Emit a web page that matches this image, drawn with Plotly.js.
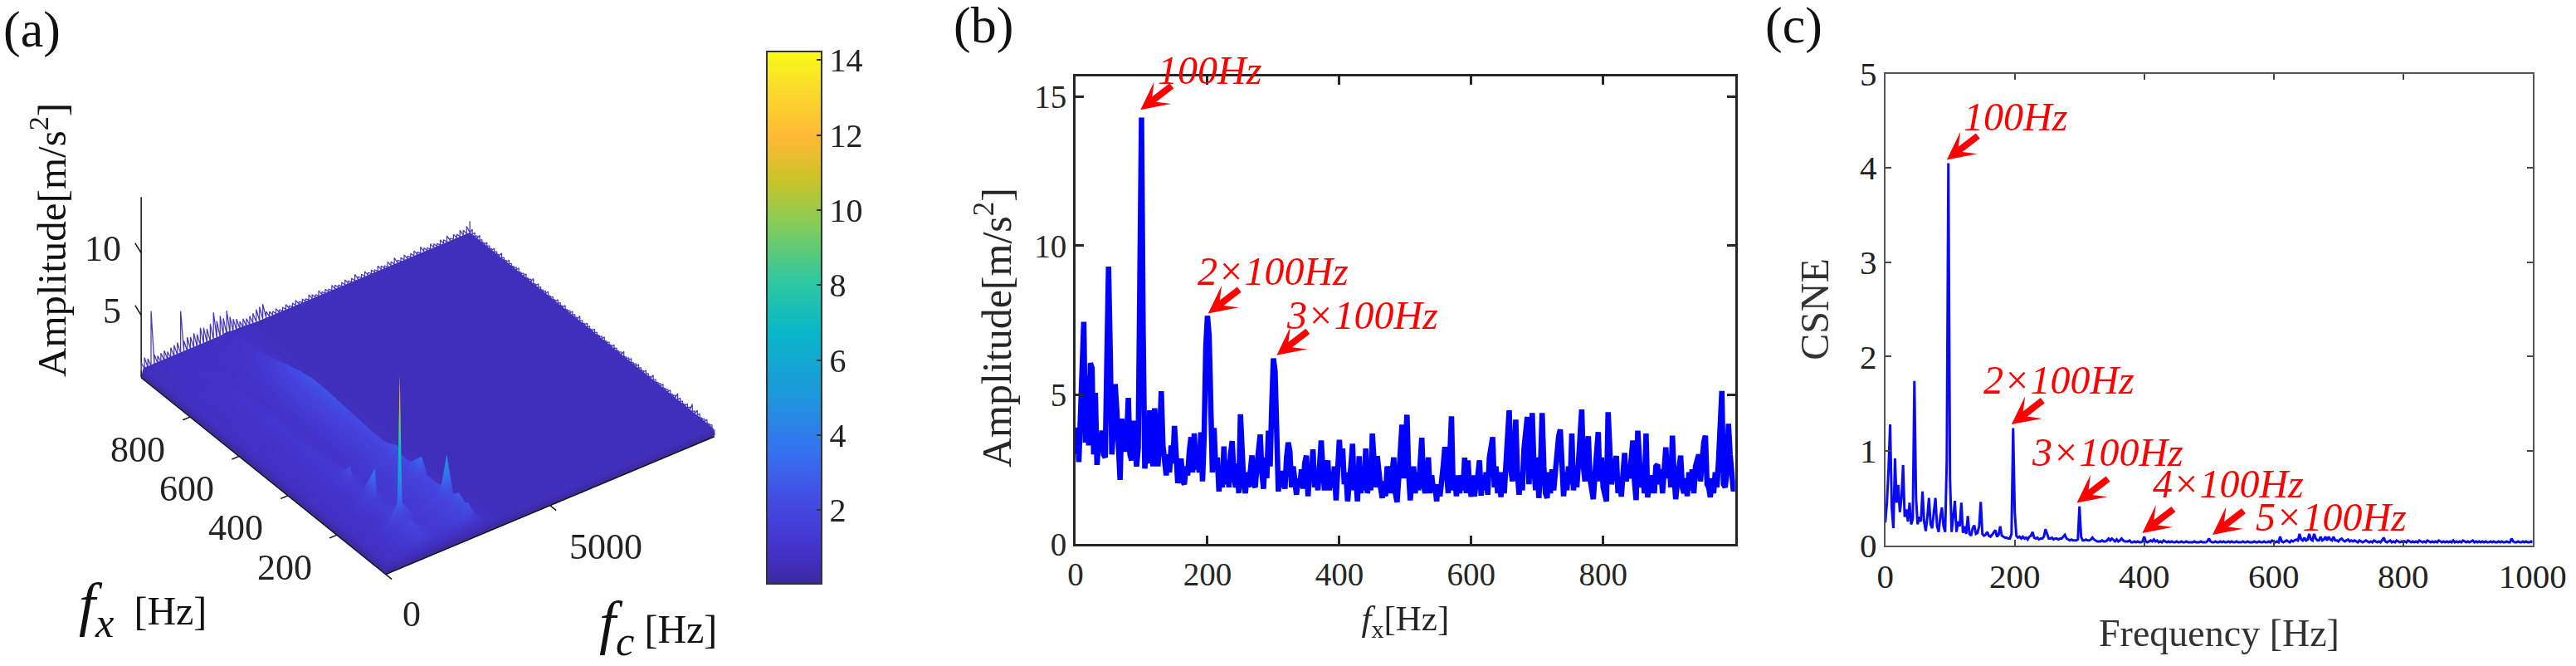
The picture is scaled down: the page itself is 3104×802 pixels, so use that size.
<!DOCTYPE html>
<html>
<head>
<meta charset="utf-8">
<script src="https://cdn.plot.ly/plotly-3.0.1.min.js"></script>
<style>html,body{margin:0;padding:0;background:#fff}</style>
</head>
<body>
<div id="plot" style="width:3104px;height:802px"></div>
<script>
// panel (a): surface over carrier frequency (columns) and cyclic frequency (rows)
const fcGrid = [0,60,400,800,1100,1170,1240,1600,2000,2400,2600,2800,3100,3500,4000,5000,6000,7000,8000,9000,10000];
const fxGrid = [0,4,12,25,50,75,96,100,104,130,150,198,202,250,298,302,350,400,450,500,550,600,650,700,750,800,850,900,1000];
const ampSurface = [
 [.05,.05,.05,.05,.05,.05,.05,.05,.05,.05,.05,.05,.05,.05,.05,.05,.05,.05,.05,.05,.05],
 [.05,.5,.7,.9,1.3,1.5,1.3,1.0,1.1,1.5,2.0,1.2,.7,.6,.6,.6,.6,.6,.6,.6,.6],
 [.05,.7,.9,1.2,1.7,2.0,1.7,1.2,1.4,1.9,2.7,1.5,.7,.6,.6,.6,.6,.6,.6,.6,.6],
 [.05,.7,1.0,1.3,1.6,1.8,1.6,1.3,1.5,1.8,2.5,1.4,.8,.6,.6,.6,.6,.6,.6,.6,.6],
 [.05,.7,1.1,1.4,1.9,2.3,1.8,1.4,1.6,2.0,2.9,1.6,.8,.6,.6,.6,.6,.6,.6,.6,.6],
 [.05,.7,1.0,1.3,1.6,1.7,1.6,1.3,1.5,1.8,2.4,1.4,.8,.6,.6,.6,.6,.6,.6,.6,.6],
 [.05,.7,1.1,1.4,1.9,2.3,1.8,1.4,1.6,2.0,2.7,1.5,.8,.6,.6,.6,.6,.6,.6,.6,.6],
 [.05,.8,1.1,1.5,3.0,13.2,2.8,1.5,1.7,2.4,5.2,1.7,.9,.6,.6,.6,.6,.6,.6,.6,.6],
 [.05,.7,1.0,1.3,1.8,2.1,1.7,1.3,1.5,1.9,2.6,1.5,.8,.6,.6,.6,.6,.6,.6,.6,.6],
 [.05,.7,.9,1.2,1.5,1.6,1.5,1.3,1.5,1.8,2.3,1.4,.7,.6,.6,.6,.6,.6,.6,.6,.6],
 [.05,.7,.9,1.1,1.5,1.6,1.5,1.2,1.5,1.8,2.2,1.3,.7,.6,.6,.6,.6,.6,.6,.6,.6],
 [.05,.7,.9,1.2,1.5,1.6,1.5,1.2,1.5,1.8,2.2,1.3,.7,.6,.6,.6,.6,.6,.6,.6,.6],
 [.05,.8,1.0,1.3,1.8,4.0,1.7,1.3,1.6,2.0,3.4,1.4,.8,.6,.6,.6,.6,.6,.6,.6,.6],
 [.05,.7,.9,1.1,1.4,1.5,1.4,1.1,1.4,1.8,2.2,1.3,.7,.6,.6,.6,.6,.6,.6,.6,.6],
 [.05,.7,.9,1.1,1.4,1.4,1.4,1.1,1.4,1.8,2.2,1.3,.7,.6,.6,.6,.6,.6,.6,.6,.6],
 [.05,.8,1.0,1.2,1.6,2.6,1.6,1.2,1.5,2.0,2.7,1.3,.8,.6,.6,.6,.6,.6,.6,.6,.6],
 [.05,.7,.9,1.1,1.3,1.3,1.3,1.1,1.4,1.8,2.2,1.3,.7,.6,.6,.6,.6,.6,.6,.6,.6],
 [.05,.7,.9,1.1,1.3,1.3,1.3,1.0,1.4,1.8,2.2,1.3,.7,.6,.6,.6,.6,.6,.6,.6,.6],
 [.05,.7,.9,1.1,1.3,1.3,1.3,1.0,1.4,1.9,2.3,1.3,.7,.6,.6,.6,.6,.6,.6,.6,.6],
 [.05,.7,.9,1.1,1.2,1.3,1.2,1.0,1.4,1.9,2.4,1.3,.7,.6,.6,.6,.6,.6,.6,.6,.6],
 [.05,.7,.9,1.0,1.2,1.2,1.2,1.0,1.4,2.0,2.5,1.4,.7,.6,.6,.6,.6,.6,.6,.6,.6],
 [.05,.7,.9,1.1,1.2,1.2,1.2,1.0,1.4,2.0,2.6,1.4,.7,.6,.6,.6,.6,.6,.6,.6,.6],
 [.05,.7,.9,1.0,1.2,1.2,1.2,1.0,1.4,2.1,2.6,1.4,.7,.6,.6,.6,.6,.6,.6,.6,.6],
 [.05,.7,.8,1.0,1.1,1.2,1.1,.9,1.3,1.9,2.4,1.3,.7,.6,.6,.6,.6,.6,.6,.6,.6],
 [.05,.7,.8,.9,1.1,1.1,1.1,.9,1.2,1.7,2.1,1.2,.7,.6,.6,.6,.6,.6,.6,.6,.6],
 [.05,.7,.8,.9,1.0,1.0,1.0,.9,1.1,1.4,1.7,1.1,.7,.6,.6,.6,.6,.6,.6,.6,.6],
 [.05,.7,.8,.8,.9,.9,.9,.8,1.0,1.2,1.4,1.0,.7,.6,.6,.6,.6,.6,.6,.6,.6],
 [.05,.7,.7,.8,.8,.8,.8,.8,.9,1.0,1.1,.9,.7,.6,.6,.6,.6,.6,.6,.6,.6],
 [.05,.7,.7,.7,.7,.7,.7,.7,.7,.7,.8,.7,.7,.6,.6,.6,.6,.6,.6,.6,.6]
];
// ragged far edges of the surface, one value every farEdgeFcStep / farEdgeFxStep Hz
const farEdgeFcStep = 100;
const farEdgeFcAmp = [
 1.2,1.5,1.3,5.0,1.4,1.2,1.3,1.4,1.2,1.4,
 1.5,1.6,4.0,1.5,1.7,1.6,1.8,1.6,2.0,1.9,
 1.7,2.0,2.8,2.0,2.3,2.0,2.5,1.9,1.6,1.5,
 1.2,1.3,1.2,1.3,1.4,1.6,1.7,1.8,1.1,1.0,
 .9,1.0,.8,.9,1.0,.8,.9,1.0,.8,.9,
 .8,1.0,.9,.8,1.0,.8,.9,.8,1.0,.9,
 .8,.9,1.0,.8,.9,1.1,.8,.9,1.0,.8,
 .9,.8,1.0,.9,.8,1.0,.9,1.1,.8,.9,
 1.0,.8,.9,1.0,.8,1.1,.9,.8,1.0,.9,
 .8,1.0,.9,1.1,.8,1.0,.9,1.1,1.0,1.2,1.5];
const farEdgeFxStep = 10;
const farEdgeFxAmp = [
 .1,.8,.7,.9,.8,.7,.9,1.0,.8,1.2,
 .8,.9,.7,.8,.9,1.1,.8,.7,.9,.8,
 .7,.9,.8,.7,.8,1.0,.7,.8,.9,.7,
 .8,.9,.8,.7,.9,.8,.7,1.0,.8,.7,
 .8,.9,.7,.8,.7,.9,.8,.7,.8,.9,
 .7,.8,.9,.7,.8,1.0,.7,.8,.9,.8,
 .7,.9,.7,.8,.9,.7,.8,.7,.9,.8,
 .7,.8,.9,.7,1.0,.8,.7,.9,.8,.7,
 .9,.8,.7,.8,.9,.7,.8,1.0,.7,.8,
 .9,.7,.8,.9,.7,.8,1.0,.8,.9,1.0,1.5];
const fxTicksA = [200,400,600,800];
const fcTicksA = [0,5000];
const ampTicksA = [5,10];

// panel (b): envelope spectrum, one value every 2.5 Hz, ten values (25 Hz) per line
const ampB = [
 3.0,3.9,2.75,4.8,6.3,7.45,3.4,5.65,3.3,6.06,
 5.9,3.0,5.07,2.65,3.4,3.1,3.8,3.0,2.9,8.0,
 9.3,6.5,3.0,3.9,5.36,4.5,2.9,2.15,4.2,3.3,
 3.1,3.5,4.9,3.0,2.8,4.13,3.3,2.6,3.2,7.5,
 14.3,7.0,2.53,3.4,2.7,4.48,3.4,2.6,4.55,3.2,
 2.6,3.6,5.12,3.3,2.5,2.3,3.0,2.4,3.3,2.7,
 3.96,3.0,2.04,2.5,2.86,2.1,2.0,2.6,2.3,3.1,
 3.58,2.4,3.71,2.5,2.9,2.4,3.74,2.1,3.6,6.6,
 7.65,7.0,3.4,2.4,3.89,2.5,2.9,1.76,2.6,1.9,
 3.27,2.0,2.8,1.9,3.0,3.45,2.3,1.9,2.7,1.7,
 4.35,2.5,2.0,1.7,2.4,1.9,2.5,2.97,2.0,1.9,
 2.6,3.1,3.67,2.4,1.85,2.9,2.2,3.8,2.6,4.6,
 6.22,5.8,2.6,1.76,2.4,1.9,2.45,1.85,2.9,3.4,
 3.1,1.9,2.6,1.8,1.65,2.2,1.9,2.5,1.85,2.7,
 2.96,1.6,2.5,2.2,3.17,1.9,2.4,1.8,2.6,3.47,
 2.5,1.8,2.4,2.8,1.8,2.4,1.9,2.6,1.46,2.6,
 3.49,2.6,3.2,2.0,2.4,1.43,2.4,2.6,3.36,1.8,
 2.2,1.43,2.94,1.7,2.3,1.8,3.2,1.7,2.1,1.8,
 3.7,3.0,1.9,2.94,2.2,1.9,1.54,2.1,1.6,2.6,
 2.3,1.7,2.4,2.9,1.7,1.4,2.2,3.2,4.0,2.2,
 3.6,4.33,2.4,1.46,2.2,2.6,1.7,2.4,1.8,2.6,
 3.56,2.0,1.7,2.3,2.9,1.7,2.3,1.8,2.0,1.43,
 2.0,1.6,2.4,2.6,3.25,2.0,1.7,2.9,4.28,1.8,
 2.2,1.6,2.3,1.7,2.3,1.8,2.89,1.7,2.8,1.9,
 1.59,2.3,1.6,2.1,2.3,2.8,1.62,2.3,1.8,2.4,
 1.65,2.9,3.3,3.58,1.9,2.6,1.7,2.4,1.57,2.4,
 1.7,2.9,3.4,4.48,2.5,2.1,3.0,4.17,2.4,1.65,
 2.4,1.8,3.2,3.9,4.26,2.0,3.3,4.39,2.6,1.8,
 2.9,1.54,2.6,4.39,2.6,1.7,1.54,2.4,1.7,2.5,
 1.8,2.6,2.9,3.6,3.84,2.0,1.6,2.4,1.8,2.6,
 2.0,3.7,1.8,2.5,1.9,2.7,3.4,4.51,2.6,2.1,
 3.0,3.61,2.2,1.7,1.5,2.3,3.0,3.75,2.1,2.9,
 1.9,1.6,1.43,4.42,2.4,2.0,2.4,2.8,2.95,1.7,
 2.2,1.59,2.3,3.05,2.1,2.6,2.2,3.2,3.47,2.1,
 1.47,3.8,2.3,1.9,2.4,1.7,3.7,1.56,2.2,1.7,
 2.3,1.7,2.6,2.66,2.0,2.5,1.7,2.4,3.24,2.2,
 2.9,1.9,3.63,2.3,1.5,2.1,2.6,2.96,1.9,1.7,
 2.2,1.6,2.4,1.8,2.5,1.7,2.6,2.9,3.0,2.1,
 2.9,3.4,3.63,2.0,1.9,1.57,2.2,1.7,2.4,1.9,
 2.8,3.9,5.13,2.0,1.9,2.4,4.03,3.0,2.0,1.77,
 2.0];

// panel (c): CSNE, same 2.5 Hz spacing
const csneC = [
 .24,.45,.8,1.28,.4,.18,.92,.45,.64,.35,
 .5,.85,.3,.38,.25,.45,.22,.28,1.74,.5,
 .22,.3,.25,.57,.25,.15,.3,.5,.22,.18,
 .35,.5,.2,.14,.3,.4,.2,.14,.9,4.05,
 .7,.14,.3,.47,.14,.25,.2,.45,.13,.2,
 .12,.31,.12,.1,.18,.21,.12,.13,.2,.46,
 .12,.1,.11,.14,.1,.09,.11,.14,.16,.09,
 .11,.2,.1,.09,.08,.08,.07,.07,.12,1.24,
 .35,.1,.08,.09,.07,.09,.07,.08,.06,.09,
 .1,.14,.08,.07,.08,.06,.07,.07,.09,.17,
 .12,.07,.07,.08,.06,.07,.07,.06,.07,.07,
 .09,.11,.07,.06,.05,.06,.05,.05,.05,.06,
 .41,.09,.05,.05,.06,.05,.05,.06,.08,.06,
 .05,.04,.04,.04,.05,.04,.04,.05,.07,.05,
 .07,.05,.04,.06,.04,.05,.07,.05,.04,.04,
 .04,.05,.03,.03,.04,.03,.04,.03,.03,.04,
 .09,.04,.03,.04,.05,.04,.06,.04,.05,.03,
 .04,.03,.05,.04,.03,.04,.03,.04,.03,.03,
 .04,.03,.03,.04,.03,.03,.04,.03,.03,.03,
 .03,.04,.03,.03,.03,.04,.03,.03,.03,.04,
 .07,.04,.03,.03,.04,.03,.03,.04,.03,.04,
 .03,.03,.04,.03,.04,.03,.03,.04,.03,.03,
 .03,.04,.03,.03,.04,.03,.03,.03,.04,.03,
 .03,.04,.03,.03,.04,.03,.03,.04,.03,.05,
 .04,.03,.04,.03,.09,.04,.03,.04,.05,.04,
 .03,.05,.04,.05,.06,.05,.12,.06,.05,.08,
 .05,.06,.12,.06,.05,.12,.07,.05,.05,.09,
 .05,.06,.09,.05,.09,.06,.05,.09,.05,.05,
 .04,.06,.07,.05,.04,.05,.06,.04,.05,.04,
 .05,.04,.03,.05,.04,.03,.04,.05,.04,.03,
 .04,.03,.05,.04,.03,.04,.03,.05,.08,.04,
 .03,.04,.05,.03,.04,.03,.05,.04,.03,.04,
 .03,.04,.03,.05,.04,.03,.04,.03,.04,.03,
 .05,.04,.03,.04,.03,.05,.04,.03,.04,.03,
 .04,.03,.05,.04,.03,.04,.03,.04,.03,.04,
 .03,.05,.03,.04,.03,.04,.03,.05,.04,.03,
 .04,.03,.04,.05,.03,.04,.03,.04,.03,.04,
 .03,.04,.03,.03,.04,.03,.04,.03,.03,.04,
 .03,.04,.03,.03,.04,.03,.03,.07,.04,.03,
 .03,.04,.03,.03,.04,.03,.04,.03,.03,.04,
 .03];

const yTicksB = [0,5,10,15];
const xTicksB = [0,200,400,600,800];
const yTicksC = [0,1,2,3,4,5];
const xTicksC = [0,200,400,600,800,1000];

const parula = [[0,'#3b2a9c'],[0.05,'#4230c4'],[0.14,'#4545e0'],[0.25,'#3572f0'],[0.35,'#1f96dc'],[0.47,'#08b6c8'],[0.57,'#30c8a0'],[0.68,'#88cc55'],[0.76,'#cbc328'],[0.84,'#ffb935'],[0.93,'#fadc2c'],[1,'#f9fb15']];

const W = 3104, H = 802;
const FONT = 'Liberation Serif';
const px = x => x / W;
const py = y => 1 - y / H;

// scatter3d segments for axis lines and tick marks
const segments = { x: [], y: [], z: [] };
function addSeg(a, b) {
    segments.x.push(a[0], b[0], null);
    segments.y.push(a[1], b[1], null);
    segments.z.push(a[2], b[2], null);
}
addSeg([0, 1000, 0], [0, 1000, 14.5]);
addSeg([0, 0, 0], [0, 1000, 0]);
addSeg([0, 0, 0], [10000, 0, 0]);
fxTicksA.forEach(v => addSeg([0, v, 0], [-220, v, 0]));
fcTicksA.forEach(v => addSeg([v, 0, 0], [v, -25, 0]));
ampTicksA.forEach(v => addSeg([0, 1000, v], [0, 1025, v + 0.4]));

// teeth along the two far edges, zigzag between surface level and the read value
const fringe = { x: [], y: [], z: [] };
farEdgeFcAmp.forEach((a, i) => {
    const fc = i * farEdgeFcStep;
    fringe.x.push(fc, fc);
    fringe.y.push(1000, 1000);
    fringe.z.push(0.6, a);
});
fringe.x.push(null); fringe.y.push(null); fringe.z.push(null);
farEdgeFxAmp.forEach((a, i) => {
    const fx = i * farEdgeFxStep;
    fringe.x.push(10000, 10000);
    fringe.y.push(fx, fx);
    fringe.z.push(0.6, a);
});

const traces = [
    {
        type: 'surface', x: fcGrid, y: fxGrid, z: ampSurface, scene: 'scene',
        colorscale: parula, cmin: 0.03, cmax: 14.23, hoverinfo: 'skip',
        lighting: { ambient: 1, diffuse: 0, specular: 0, roughness: 1, fresnel: 0 },
        contours: { x: { show: false }, y: { show: false }, z: { show: false } },
        colorbar: {
            thicknessmode: 'pixels', thickness: 66, lenmode: 'pixels', len: 641,
            x: px(924), xanchor: 'left', y: py(382.5), yanchor: 'middle', xpad: 0, ypad: 0,
            outlinecolor: '#333', outlinewidth: 2, ticks: 'inside', ticklen: 7, tickwidth: 2,
            tickcolor: '#333', tickvals: [2,4,6,8,10,12,14],
            tickfont: { family: FONT, size: 40, color: '#222' }
        }
    },
    {
        type: 'scatter3d', mode: 'lines', scene: 'scene', x: fringe.x, y: fringe.y, z: fringe.z,
        line: { color: '#4436c8', width: 2.5 }, hoverinfo: 'skip', showlegend: false
    },
    {
        type: 'scatter3d', mode: 'lines', scene: 'scene', x: segments.x, y: segments.y, z: segments.z,
        line: { color: '#111', width: 3 }, hoverinfo: 'skip', showlegend: false
    },
    {
        type: 'scatter', mode: 'lines', y: ampB, x0: 0, dx: 2.5, xaxis: 'x', yaxis: 'y',
        line: { color: '#0000ff', width: 6.5 }, hoverinfo: 'skip', showlegend: false, cliponaxis: false
    },
    {
        type: 'scatter', mode: 'lines', y: csneC, x0: 0, dx: 2.5, xaxis: 'x2', yaxis: 'y2',
        line: { color: '#0a0af5', width: 3 }, hoverinfo: 'skip', showlegend: false
    }
];

const hiddenAxis = {
    visible: false, showgrid: false, zeroline: false, showspikes: false, showbackground: false
};

function redLabel(xref, yref, x, y, text, yshift) {
    return {
        xref, yref, x, y, yshift: yshift || 0, text: '<i>' + text + '</i>', showarrow: false,
        xanchor: 'left', yanchor: 'middle', font: { family: FONT, size: 48, color: '#ff0000' }
    };
}
function redArrow(xref, yref, x, y) {
    return {
        xref, yref, x, y, text: '', showarrow: true, ax: 39, ay: -30,
        arrowcolor: '#ff0000', arrowhead: 3, arrowwidth: 8, arrowsize: 0.7, standoff: 0
    };
}
function paperText(x, y, text, size, extra) {
    return Object.assign({
        xref: 'paper', yref: 'paper', x: px(x), y: py(y), text, showarrow: false,
        xanchor: 'left', yanchor: 'middle', font: { family: FONT, size, color: '#111' }
    }, extra || {});
}
function sceneLabel(x, y, z, text, xshift, yshift, xanchor) {
    return {
        x, y, z, text, showarrow: false, xshift, yshift, xanchor: xanchor || 'center', yanchor: 'middle',
        font: { family: FONT, size: 44, color: '#222' }
    };
}

const sceneAnnotations = [
    ...fxTicksA.map(v => sceneLabel(0, v, 0, String(v), -63, -39)),
    ...fcTicksA.map(v => sceneLabel(v, 0, 0, String(v), v ? 67 : 31, v ? -50 : -48)),
    ...ampTicksA.map(v => sceneLabel(0, 1000, v, String(v), -22, 5, 'right'))
];

const layout = {
    width: W, height: H, margin: { l: 0, r: 0, t: 0, b: 0 }, autosize: false,
    paper_bgcolor: '#fff', plot_bgcolor: '#fff', showlegend: false,
    font: { family: FONT, color: '#222' },
    scene: {
        domain: { x: [0, 1031 / W], y: [py(763), 1] },
        // ranges run a little past the data so the outward tick marks are not clipped
        aspectmode: 'manual', aspectratio: { x: 1.357, y: 1.399, z: 0.70 },
        camera: {
            projection: { type: 'orthographic' },
            up: { x: 0, y: 0, z: 1 }, center: { x: 0, y: 0, z: 0 },
            eye: { x: -0.731, y: -1.013, z: 0.89 }
        },
        xaxis: Object.assign({ range: [-300, 10300] }, hiddenAxis),
        yaxis: Object.assign({ range: [-30, 1030] }, hiddenAxis),
        zaxis: Object.assign({ range: [0, 14.5] }, hiddenAxis),
        annotations: sceneAnnotations
    },
    xaxis: {
        domain: [px(1296), px(2090.7)], range: [0, 1000], anchor: 'y', tickmode: 'array', tickvals: xTicksB,
        ticks: 'inside', ticklen: 10, tickwidth: 3, tickcolor: '#262626', linecolor: '#262626', linewidth: 3,
        mirror: 'allticks', showgrid: false, zeroline: false, tickfont: { family: FONT, size: 39, color: '#262626' },
        title: { text: '<i>f</i><sub>x</sub>[Hz]', font: { family: FONT, size: 43, color: '#262626' }, standoff: 18 }
    },
    yaxis: {
        domain: [py(655), py(92.4)], range: [0, 15.67], anchor: 'x', tickmode: 'array', tickvals: yTicksB,
        ticks: 'inside', ticklen: 10, tickwidth: 3, tickcolor: '#262626', linecolor: '#262626', linewidth: 3,
        mirror: 'allticks', showgrid: false, zeroline: false, tickfont: { family: FONT, size: 39, color: '#262626' }
    },
    xaxis2: {
        domain: [px(2271.7), px(3051.7)], range: [0, 1000], anchor: 'y2', tickmode: 'array', tickvals: xTicksC,
        ticks: 'inside', ticklen: 7, tickwidth: 2, tickcolor: '#444', linecolor: '#555', linewidth: 2,
        mirror: 'allticks', showgrid: false, zeroline: false, tickfont: { family: FONT, size: 41, color: '#222' }
    },
    yaxis2: {
        domain: [py(656.5), py(88.5)], range: [0, 5], anchor: 'x2', tickmode: 'array', tickvals: yTicksC,
        ticks: 'inside', ticklen: 7, tickwidth: 2, tickcolor: '#444', linecolor: '#555', linewidth: 2,
        mirror: 'allticks', showgrid: false, zeroline: false, tickfont: { family: FONT, size: 41, color: '#222' },
        title: { text: 'CSNE', font: { family: FONT, size: 48, color: '#333' }, standoff: 22 }
    },
    annotations: [
        paperText(2, 36, '(a)', 62), paperText(1147, 30, '(b)', 62), paperText(2125, 30, '(c)', 62),
        paperText(58, 289, 'Amplitude[m/s<sup>2</sup>]', 49, { xanchor: 'center', textangle: -90 }),
        paperText(1197, 395, 'Amplitude[m/s<sup>2</sup>]', 50, { xanchor: 'center', textangle: -90, font: { family: FONT, size: 50, color: '#262626' } }),
        paperText(2674, 762, 'Frequency [Hz]', 46, { xanchor: 'center', font: { family: FONT, size: 46, color: '#333' } }),
        paperText(93, 733, '<span style="font-size:72px"><i>f<sub>x</sub></i></span>&nbsp; [Hz]', 48),
        paperText(720, 755, '<span style="font-size:72px"><i>f<sub>c</sub></i></span>&nbsp;[Hz]', 48),
        redArrow('x', 'y', 98.5, 14.56), redLabel('x', 'y', 122, 15.6, '100Hz', 10),
        redArrow('x', 'y', 201, 7.73), redLabel('x', 'y', 182, 9.16, '2×100Hz'),
        redArrow('x', 'y', 305, 6.33), redLabel('x', 'y', 317, 7.66, '3×100Hz'),
        redArrow('x2', 'y2', 95, 4.085), redLabel('x2', 'y2', 118, 4.54, '100Hz'),
        redArrow('x2', 'y2', 195, 1.28), redLabel('x2', 'y2', 149, 1.756, '2×100Hz'),
        redArrow('x2', 'y2', 296, 0.449), redLabel('x2', 'y2', 223, 0.99, '3×100Hz'),
        redArrow('x2', 'y2', 397, 0.128), redLabel('x2', 'y2', 410, 0.651, '4×100Hz'),
        redArrow('x2', 'y2', 505.5, 0.11), redLabel('x2', 'y2', 570, 0.295, '5×100Hz')
    ]
};

Plotly.newPlot('plot', traces, layout, { displayModeBar: false });
</script>
</body>
</html>
